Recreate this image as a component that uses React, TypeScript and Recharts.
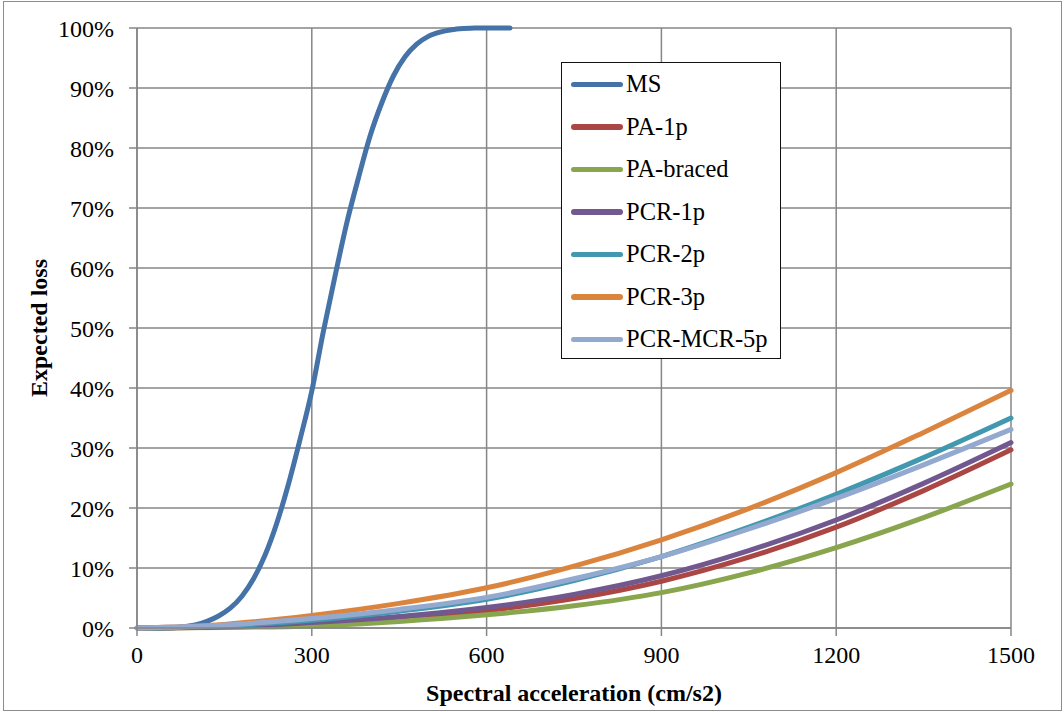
import React from "react";
import { LineChart, Line, XAxis, YAxis, CartesianGrid, Legend } from "recharts";

// spectral acceleration (cm/s2) for the MS curve
const msX = [0, 50, 80, 100, 120, 140, 160, 180, 200, 220, 240, 260, 280, 300, 320, 340, 360, 380, 400, 420, 440, 460, 480, 500, 520, 540, 560, 580, 600, 640];
const msY = [0, 0, 0.2, 0.5, 1.1, 2.0, 3.3, 5.3, 8.2, 12.2, 17.5, 24, 31.5, 39.5, 49.5, 58.7, 67.5, 75, 82, 87.5, 92, 95.2, 97.3, 98.6, 99.3, 99.7, 99.9, 100, 100, 100];

// shared x values for the other typologies
const sa = [0, 150, 300, 450, 600, 750, 900, 1050, 1200, 1350, 1500];
const pa1p = [0, 0.15, 0.6, 1.5, 2.9, 4.9, 7.8, 11.8, 16.8, 22.9, 29.7];
const paBraced = [0, 0.1, 0.35, 1.1, 2.2, 3.7, 5.9, 9.2, 13.4, 18.4, 24.0];
const pcr1p = [0, 0.2, 0.9, 1.9, 3.4, 5.6, 8.7, 12.9, 18.0, 24.1, 30.9];
const pcr2p = [0, 0.35, 1.3, 2.8, 4.8, 7.9, 11.9, 16.8, 22.3, 28.4, 35.0];
const pcr3p = [0, 0.6, 2.1, 4.1, 6.7, 10.3, 14.7, 19.9, 25.9, 32.6, 39.6];
const pcrMcr5p = [0, 0.5, 1.6, 3.1, 5.1, 8.2, 11.9, 16.5, 21.6, 27.2, 33.1];

const xTicks = [0, 300, 600, 900, 1200, 1500];
const yTicks = [0, 10, 20, 30, 40, 50, 60, 70, 80, 90, 100];

const FONT = "Liberation Serif";
const GRID = "#868686";

const toPts = (xs: number[], ys: number[]) => xs.map((x, i) => ({ x, y: ys[i] }));

const series = [
  { name: "MS", color: "#4572A7", data: toPts(msX, msY) },
  { name: "PA-1p", color: "#AA4643", data: toPts(sa, pa1p) },
  { name: "PA-braced", color: "#89A54E", data: toPts(sa, paBraced) },
  { name: "PCR-1p", color: "#71588F", data: toPts(sa, pcr1p) },
  { name: "PCR-2p", color: "#4198AF", data: toPts(sa, pcr2p) },
  { name: "PCR-3p", color: "#DB843D", data: toPts(sa, pcr3p) },
  { name: "PCR-MCR-5p", color: "#93A9CF", data: toPts(sa, pcrMcr5p) },
];

const LegendBox = () => (
  <div
    style={{
      width: 220,
      height: 297,
      boxSizing: "border-box",
      border: "1px solid #111",
      background: "#fff",
      fontFamily: FONT,
      fontSize: 24.5,
      color: "#000",
    }}
  >
    {series.map((s) => (
      <div key={s.name} style={{ display: "flex", alignItems: "center", height: 42.5 }}>
        <div style={{ width: 52, height: 5.5, borderRadius: 3, background: s.color, marginLeft: 9, marginRight: 3 }} />
        <span>{s.name}</span>
      </div>
    ))}
  </div>
);

export default function App() {
  return (
    <div style={{ position: "absolute", left: 0, top: 0, width: 1064, height: 712, background: "#fff" }}>
      <div style={{ position: "absolute", left: 3, top: 1, width: 1057, height: 708, border: "1px solid #8c8c8c" }} />
      <LineChart width={1064} height={712} data={series[1].data} margin={{ top: 28, right: 53, left: 20, bottom: 44 }}>
        <CartesianGrid stroke={GRID} strokeWidth={1.5} />
        <XAxis
          dataKey="x"
          type="number"
          domain={[0, 1500]}
          ticks={xTicks}
          allowDuplicatedCategory={false}
          height={40}
          stroke={GRID}
          strokeWidth={1.5}
          tickSize={8}
          tickMargin={10}
          tick={{ fill: "#000", fontFamily: FONT, fontSize: 24 }}
          label={{
            value: "Spectral acceleration (cm/s2)",
            position: "bottom",
            offset: 16,
            style: { fontFamily: FONT, fontSize: 24, fontWeight: "bold", fill: "#000" },
          }}
        />
        <YAxis
          type="number"
          domain={[0, 100]}
          ticks={yTicks}
          width={117}
          stroke={GRID}
          strokeWidth={1.5}
          tickSize={8}
          tickMargin={15}
          tickFormatter={(v: number) => `${v}%`}
          tick={{ fill: "#000", fontFamily: FONT, fontSize: 24 }}
          label={{
            value: "Expected loss",
            angle: -90,
            position: "insideLeft",
            offset: 18,
            style: { textAnchor: "middle", fontFamily: FONT, fontSize: 24, fontWeight: "bold", fill: "#000" },
          }}
        />
        <Legend
          layout="horizontal"
          verticalAlign="middle"
          align="center"
          wrapperStyle={{ left: 561, top: 62, width: 220, height: 297 }}
          content={() => <LegendBox />}
        />
        {series.map((s) => (
          <Line
            key={s.name}
            data={s.data}
            dataKey="y"
            name={s.name}
            type="monotone"
            stroke={s.color}
            strokeWidth={5}
            strokeLinecap="round"
            dot={false}
            activeDot={false}
            isAnimationActive={false}
          />
        ))}
      </LineChart>
    </div>
  );
}
